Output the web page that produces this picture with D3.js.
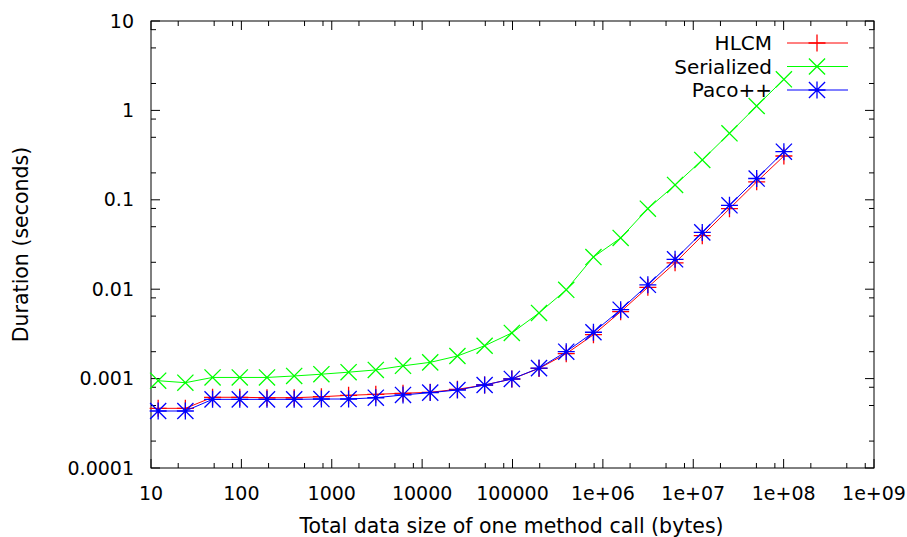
<!DOCTYPE html>
<meta charset="utf-8">
<style>
    body { margin: 0; background: #fff; }
    text { font-family: "DejaVu Sans", sans-serif; font-size: 19px; fill: #000; }
    .title { font-size: 20.5px; }
    .legend text { font-size: 20px; }
    .frame { fill: none; stroke: #000; stroke-width: 1; }
    .tick { stroke: #000; stroke-width: 1; }
    .series path.line { fill: none; stroke-width: 1; }
    .series path.mark { fill: none; stroke-width: 1.3; }
</style>

<svg width="907" height="537"></svg>

<script src="https://d3js.org/d3.v7.min.js"></script>

<script>
// total data size of one method call (bytes)
var sizes = [12, 24, 48, 96, 192, 384, 768, 1536, 3072, 6144, 12288, 24576,
    49152, 98304, 196608, 393216, 786432, 1572864, 3145728, 6291456,
    12582912, 25165824, 50331648, 100663296];

// durations in seconds
var hlcm = [0.000465, 0.000465, 0.000618, 0.000618, 0.000611, 0.000611,
    0.000627, 0.00065, 0.000667, 0.000685, 0.000703, 0.000759, 0.000848,
    0.00099, 0.0013, 0.0019, 0.0031, 0.0056, 0.0105, 0.0197, 0.0397,
    0.0795, 0.159, 0.309];
var serialized = [0.000947, 0.0009, 0.00103, 0.00103, 0.00103, 0.00107,
    0.00112, 0.00118, 0.00125, 0.00139, 0.00152, 0.00179, 0.00233,
    0.00324, 0.00542, 0.00985, 0.0229, 0.0374, 0.0795, 0.1465, 0.279,
    0.554, 1.12, 2.23];
var paco = [0.000434, 0.000434, 0.000586, 0.000586, 0.000586, 0.000586,
    0.000591, 0.000591, 0.000611, 0.000656, 0.000697, 0.000745, 0.000848,
    0.00099, 0.00131, 0.002, 0.0033, 0.0059, 0.0112, 0.0216, 0.0432,
    0.0868, 0.173, 0.345];

var xTicks = [10, 100, 1000, 10000, 100000, 1e6, 1e7, 1e8, 1e9];
var xTickLabels = ["10", "100", "1000", "10000", "100000", "1e+06", "1e+07", "1e+08", "1e+09"];
var yTicks = [0.0001, 0.001, 0.01, 0.1, 1, 10];
var yTickLabels = ["0.0001", "0.001", "0.01", "0.1", "1", "10"];
var minorSteps = [2, 5, 8];

var series = [
    { name: "HLCM", values: hlcm, color: "#ff0000", mark: "plus" },
    { name: "Serialized", values: serialized, color: "#00ff00", mark: "cross" },
    { name: "Paco++", values: paco, color: "#0000ff", mark: "star" }
];

var pLeft = 151, pRight = 874, pTop = 21, pBottom = 468;
var x = d3.scaleLog().domain([10, 1e9]).range([pLeft, pRight]);
var y = d3.scaleLog().domain([0.0001, 10]).range([pBottom, pTop]);

var svg = d3.select("svg");

// ticks, mirrored on all four sides, pointing inwards
var minorX = [], minorY = [];
xTicks.slice(0, -1).forEach(function(t) {
    minorSteps.forEach(function(m) { minorX.push(t * m); });
});
yTicks.slice(0, -1).forEach(function(t) {
    minorSteps.forEach(function(m) { minorY.push(t * m); });
});

var ticks = svg.append("g");
function xtick(v, len) {
    ticks.append("line").attr("class", "tick")
        .attr("x1", x(v)).attr("x2", x(v)).attr("y1", pBottom).attr("y2", pBottom - len);
    ticks.append("line").attr("class", "tick")
        .attr("x1", x(v)).attr("x2", x(v)).attr("y1", pTop).attr("y2", pTop + len);
}
function ytick(v, len) {
    ticks.append("line").attr("class", "tick")
        .attr("x1", pLeft).attr("x2", pLeft + len).attr("y1", y(v)).attr("y2", y(v));
    ticks.append("line").attr("class", "tick")
        .attr("x1", pRight).attr("x2", pRight - len).attr("y1", y(v)).attr("y2", y(v));
}
xTicks.forEach(function(v) { xtick(v, 9); });
minorX.forEach(function(v) { xtick(v, 5); });
yTicks.forEach(function(v) { ytick(v, 9); });
minorY.forEach(function(v) { ytick(v, 5); });

svg.append("rect").attr("class", "frame")
    .attr("x", pLeft).attr("y", pTop)
    .attr("width", pRight - pLeft).attr("height", pBottom - pTop);

// tick labels
svg.append("g").selectAll("text")
    .data(xTicks)
    .enter().append("text")
    .attr("x", function(d) { return x(d); })
    .attr("y", pBottom + 32)
    .attr("text-anchor", "middle")
    .text(function(d, i) { return xTickLabels[i]; });
svg.append("g").selectAll("text")
    .data(yTicks)
    .enter().append("text")
    .attr("x", pLeft - 17)
    .attr("y", function(d) { return y(d); })
    .attr("dy", "0.35em")
    .attr("text-anchor", "end")
    .text(function(d, i) { return yTickLabels[i]; });

// axis titles
svg.append("text").attr("class", "title")
    .attr("x", (pLeft + pRight) / 2 - 1)
    .attr("y", 533)
    .attr("text-anchor", "middle")
    .text("Total data size of one method call (bytes)");
svg.append("text").attr("class", "title")
    .attr("transform", "translate(28," + ((pTop + pBottom) / 2) + ") rotate(-90)")
    .attr("text-anchor", "middle")
    .text("Duration (seconds)");

// point glyphs, gnuplot style
var r = 8.5;
function markPath(kind, cx, cy) {
    var p = d3.path();
    if (kind === "plus" || kind === "star") {
        p.moveTo(cx - r, cy); p.lineTo(cx + r, cy);
        p.moveTo(cx, cy - r); p.lineTo(cx, cy + r);
    }
    if (kind === "cross" || kind === "star") {
        var q = r * 0.95;
        p.moveTo(cx - q, cy - q); p.lineTo(cx + q, cy + q);
        p.moveTo(cx - q, cy + q); p.lineTo(cx + q, cy - q);
    }
    return p.toString();
}

var line = d3.line()
    .x(function(d) { return x(d[0]); })
    .y(function(d) { return y(d[1]); });

series.forEach(function(s) {
    var pts = sizes.map(function(v, i) { return [v, s.values[i]]; });
    var g = svg.append("g").attr("class", "series");
    g.append("path").attr("class", "line")
        .attr("stroke", s.color)
        .attr("d", line(pts));
    g.selectAll("path.mark")
        .data(pts)
        .enter().append("path")
        .attr("class", "mark")
        .attr("stroke", s.color)
        .attr("d", function(d) { return markPath(s.mark, x(d[0]), y(d[1])); });
});

// legend, top right inside the frame
var legend = svg.append("g").attr("class", "legend");
series.forEach(function(s, i) {
    var ly = 43 + i * 23.5;
    legend.append("text")
        .attr("x", 772).attr("y", ly).attr("dy", "0.35em")
        .attr("text-anchor", "end")
        .text(s.name);
    legend.append("line")
        .attr("x1", 787).attr("x2", 848).attr("y1", ly).attr("y2", ly)
        .attr("stroke", s.color).attr("stroke-width", 1);
    legend.append("path")
        .attr("fill", "none").attr("stroke", s.color).attr("stroke-width", 1.3)
        .attr("d", markPath(s.mark, 817, ly));
});
</script>
